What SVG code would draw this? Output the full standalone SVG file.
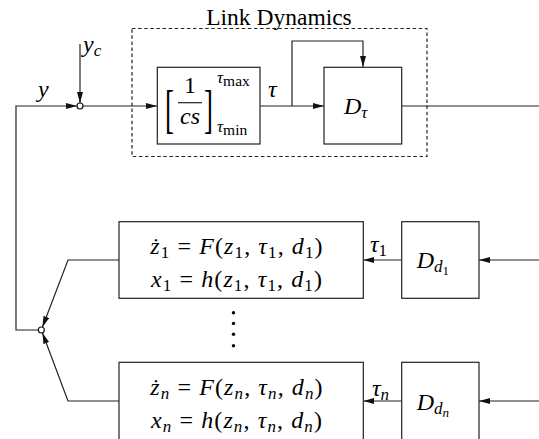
<svg xmlns="http://www.w3.org/2000/svg" width="539" height="439" viewBox="0 0 539 439">
  <defs>
    <marker id="arr" markerUnits="userSpaceOnUse" markerWidth="12" markerHeight="8" refX="11" refY="3" orient="auto">
      <path d="M0,0 L11,3 L0,6 Z" fill="#111"/>
    </marker>
    <style>
      .ln { fill: none; stroke: #222; stroke-width: 1.2; }
      .box { fill: #fff; stroke: #222; stroke-width: 1.2; }
      .dash { fill: none; stroke: #222; stroke-width: 1.2; stroke-dasharray: 3.5 2.6; }
      .jn { fill: #fff; stroke: #111; stroke-width: 1.2; }
      text { font-family: "Liberation Serif", "Times New Roman", serif; fill: #000; }
      .m { font-style: italic; font-size: 24px; }
      .i { font-style: italic; }
      .s { font-size: 17px; }
      .eq { font-size: 24px; text-anchor: middle; letter-spacing: 1.1px; }
    </style>
  </defs>

  <!-- link dynamics frame -->
  <g id="link-dynamics">
    <rect class="dash" x="132" y="28.5" width="295" height="128"/>
    <text x="279" y="25" font-size="23.5" text-anchor="middle">Link Dynamics</text>
  </g>

  <!-- connectors -->
  <g id="connectors">
    <polyline class="ln" points="38.3,330 16,330 16,106 77,106" marker-end="url(#arr)"/>
    <line class="ln" x1="80" y1="44" x2="80" y2="103" marker-end="url(#arr)"/>
    <line class="ln" x1="83" y1="106" x2="157" y2="106" marker-end="url(#arr)"/>
    <line class="ln" x1="260" y1="106" x2="324" y2="106" marker-end="url(#arr)"/>
    <polyline class="ln" points="292,106 292,41 363,41 363,67" marker-end="url(#arr)"/>
    <line class="ln" x1="401.7" y1="106" x2="539" y2="106"/>
    <line class="ln" x1="539" y1="260" x2="479" y2="260" marker-end="url(#arr)"/>
    <line class="ln" x1="401.7" y1="260" x2="363.3" y2="260" marker-end="url(#arr)"/>
    <line class="ln" x1="539" y1="401" x2="479" y2="401" marker-end="url(#arr)"/>
    <line class="ln" x1="401.7" y1="401" x2="363.3" y2="401" marker-end="url(#arr)"/>
    <polyline class="ln" points="119,260 68,260 42.4,327.2" marker-end="url(#arr)"/>
    <polyline class="ln" points="119,401 68,401 42.4,332.8" marker-end="url(#arr)"/>
  </g>

  <!-- summing junctions -->
  <g id="sum-top">
    <circle class="jn" cx="80" cy="106" r="3"/>
    <text class="m" x="38" y="97">y</text>
    <text class="m" x="83" y="52">y<tspan class="s" dy="4">c</tspan></text>
  </g>
  <g id="sum-bottom">
    <circle class="jn" cx="41.3" cy="330" r="3"/>
  </g>

  <!-- saturated integrator -->
  <g id="integrator">
    <rect class="box" x="157.3" y="67.3" width="102.7" height="76.7"/>
    <text transform="translate(165,127) scale(0.9,1.75)" font-size="30">[</text>
    <text transform="translate(204,127) scale(0.9,1.75)" font-size="30">]</text>
    <text x="190" y="93" font-size="24" text-anchor="middle">1</text>
    <line class="ln" x1="178" y1="102.7" x2="202" y2="102.7"/>
    <text class="m" x="190" y="124" text-anchor="middle">cs</text>
    <text x="217" y="83" font-size="17"><tspan class="i">τ</tspan><tspan font-size="15.5" dy="3">max</tspan></text>
    <text x="217" y="132" font-size="17"><tspan class="i">τ</tspan><tspan font-size="15.5" dy="3">min</tspan></text>
    <text class="m" x="268" y="97">τ</text>
  </g>

  <!-- delay on tau -->
  <g id="delay-tau">
    <rect class="box" x="324" y="67.3" width="77.7" height="76.7"/>
    <text class="m" x="344" y="114">D<tspan class="s" dy="4">τ</tspan></text>
  </g>

  <!-- subsystem 1 -->
  <g id="agent-1">
    <rect class="box" x="119" y="221.7" width="244.3" height="76.6"/>
    <text class="eq" x="237" y="254"><tspan class="i">ż</tspan><tspan class="s" dy="4">1</tspan><tspan dy="-4"> = </tspan><tspan class="i">F</tspan>(<tspan class="i">z</tspan><tspan class="s" dy="4">1</tspan><tspan dy="-4">, </tspan><tspan class="i">τ</tspan><tspan class="s" dy="4">1</tspan><tspan dy="-4">, </tspan><tspan class="i">d</tspan><tspan class="s" dy="4">1</tspan><tspan dy="-4">)</tspan></text>
    <text class="eq" x="237" y="287"><tspan class="i">x</tspan><tspan class="s" dy="4">1</tspan><tspan dy="-4"> = </tspan><tspan class="i">h</tspan>(<tspan class="i">z</tspan><tspan class="s" dy="4">1</tspan><tspan dy="-4">, </tspan><tspan class="i">τ</tspan><tspan class="s" dy="4">1</tspan><tspan dy="-4">, </tspan><tspan class="i">d</tspan><tspan class="s" dy="4">1</tspan><tspan dy="-4">)</tspan></text>
  </g>
  <g id="delay-1">
    <rect class="box" x="401.7" y="221.7" width="77.3" height="76.6"/>
    <text class="m" x="416.7" y="268">D<tspan class="s" dy="4">d</tspan><tspan font-size="13" font-style="normal" dy="3">1</tspan></text>
    <text class="m" x="370" y="252">τ<tspan class="s" font-style="normal" dy="4">1</tspan></text>
  </g>

  <!-- ellipsis between subsystems -->
  <g id="ellipsis" fill="#000">
    <circle cx="233.5" cy="312.7" r="1.7"/>
    <circle cx="233.5" cy="323.4" r="1.7"/>
    <circle cx="233.5" cy="334.3" r="1.7"/>
    <circle cx="233.5" cy="345.7" r="1.7"/>
  </g>

  <!-- subsystem n -->
  <g id="agent-n">
    <rect class="box" x="119" y="362.3" width="244.3" height="90"/>
    <text class="eq" x="237" y="395"><tspan class="i">ż</tspan><tspan class="s i" dy="4">n</tspan><tspan dy="-4"> = </tspan><tspan class="i">F</tspan>(<tspan class="i">z</tspan><tspan class="s i" dy="4">n</tspan><tspan dy="-4">, </tspan><tspan class="i">τ</tspan><tspan class="s i" dy="4">n</tspan><tspan dy="-4">, </tspan><tspan class="i">d</tspan><tspan class="s i" dy="4">n</tspan><tspan dy="-4">)</tspan></text>
    <text class="eq" x="237" y="428"><tspan class="i">x</tspan><tspan class="s i" dy="4">n</tspan><tspan dy="-4"> = </tspan><tspan class="i">h</tspan>(<tspan class="i">z</tspan><tspan class="s i" dy="4">n</tspan><tspan dy="-4">, </tspan><tspan class="i">τ</tspan><tspan class="s i" dy="4">n</tspan><tspan dy="-4">, </tspan><tspan class="i">d</tspan><tspan class="s i" dy="4">n</tspan><tspan dy="-4">)</tspan></text>
  </g>
  <g id="delay-n">
    <rect class="box" x="401.7" y="362.3" width="77.3" height="90"/>
    <text class="m" x="416.7" y="410">D<tspan class="s" dy="4">d</tspan><tspan font-size="13" dy="3">n</tspan></text>
    <text class="m" x="372" y="396">τ<tspan class="s" dy="4">n</tspan></text>
  </g>
</svg>
